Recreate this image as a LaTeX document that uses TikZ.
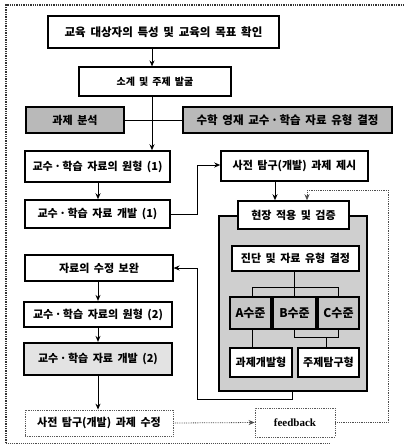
\documentclass[tikz,border=0pt]{standalone}
\usepackage{fontspec}
\newfontfamily\kr{Noto Sans CJK KR}[WordSpace=1.8]
\newfontfamily\fbfont{Liberation Serif}
\usetikzlibrary{arrows.meta}
\newcommand\mdot{\hspace{1.5pt}·\hspace{1.5pt}}
\tikzset{
  base/.style={draw, inner sep=0pt, font=\kr\bfseries\fontsize{11}{12}\selectfont, align=center},
  box/.style={base, fill=white, line width=1.1pt},
  medbox/.style={base, fill=white, line width=1.5pt},
  thickbox/.style={base, fill=white, line width=2.2pt},
  graybox/.style={base, fill=gray!55, line width=1.3pt},
  lvbox/.style={base, fill=gray!45, line width=1.3pt, font=\kr\bfseries\fontsize{12}{12}\selectfont},
  dotbox/.style={base, densely dotted, line width=0.8pt, draw=gray!70!black},
  arr/.style={line width=1pt, -{Stealth[length=6pt,width=5pt]}},
  ln/.style={line width=1pt},
  thin/.style={line width=0.8pt},
  dotarr/.style={densely dotted, line width=0.8pt, draw=gray!60!black, -{Stealth[length=6pt,width=5pt]}},
  dotln/.style={densely dotted, line width=0.8pt, draw=gray!60!black},
}
\begin{document}
\begin{tikzpicture}[x=1pt,y=-1pt]
\useasboundingbox (0,0) rectangle (404,447);
\fill[white] (0,0) rectangle (404,447);
% outer frame
\draw[line width=1.3pt, densely dotted, draw=black!80] (6,443) -- (6,5) -- (404,5);
\draw[line width=0.9pt, densely dotted, draw=black!70] (6,443) -- (330,443);
% gray region
\draw[fill=gray!38, line width=1.3pt] (219,216) rectangle (367,391);

\node[box, minimum width=231pt, minimum height=32pt, font=\kr\bfseries\fontsize{11.5}{12}\selectfont] (b1) at (163.5,32) {교육 대상자의 특성 및 교육의 목표 확인};
\node[box, minimum width=152pt, minimum height=29pt, font=\kr\bfseries\fontsize{10}{12}\selectfont] (b2) at (155,81.5) {소계 및 주제 발굴};
\node[graybox, minimum width=98pt, minimum height=26pt] (g1) at (75,120) {과제 분석};
\node[graybox, minimum width=209pt, minimum height=26pt, font=\kr\bfseries\fontsize{11.5}{12}\selectfont] (g2) at (287.5,120) {수학 영재 교수\mdot 학습 자료 유형 결정};
\node[medbox, minimum width=145pt, minimum height=31pt] (b3) at (97.5,166.5) {교수\mdot 학습 자료의 원형 (1)};
\node[medbox, minimum width=145pt, minimum height=28pt] (b4) at (97.5,214) {교수\mdot 학습 자료 개발 (1)};
\node[medbox, minimum width=147pt, minimum height=30pt] (b5) at (294.5,166) {사전 탐구(개발) 과제 제시};
\node[medbox, minimum width=111pt, minimum height=28pt] (b6) at (293.5,215) {현장 적용 및 검증};
\node[thickbox, minimum width=127pt, minimum height=25pt] (b7) at (295.5,258.5) {진단 및 자료 유형 결정};
\node[lvbox, minimum width=41pt, minimum height=32pt] (la) at (250.5,313) {A수준};
\node[lvbox, minimum width=43pt, minimum height=32pt] (lb) at (294.5,313) {B수준};
\node[lvbox, minimum width=41pt, minimum height=32pt] (lc) at (338.5,313) {C수준};
\node[medbox, minimum width=62pt, minimum height=29pt] (td) at (261,362.5) {과제개발형};
\node[medbox, minimum width=61pt, minimum height=29pt] (te) at (328.5,362.5) {주제탐구형};
\node[box, minimum width=148pt, minimum height=26pt] (b8) at (99,268) {자료의 수정 보완};
\node[thickbox, minimum width=148pt, minimum height=25pt] (b9) at (98,314.5) {교수\mdot 학습 자료의 원형 (2)};
\node[thickbox, fill=gray!22, minimum width=148pt, minimum height=32pt] (b10) at (98,359) {교수\mdot 학습 자료 개발 (2)};
\node[dotbox, minimum width=148pt, minimum height=26pt] (b11) at (99,423) {사전 탐구(개발) 과제 수정};
\node[dotbox, minimum width=80pt, minimum height=29pt, font=\fbfont\bfseries\fontsize{11}{12}\selectfont] (fb) at (295,422.5) {feedback};

\coordinate (r1) at (197,214);
\coordinate (r2) at (197,165);
\coordinate (f1) at (388,422.5);
\coordinate (f2) at (388,190);
\coordinate (f3) at (307,190);
\coordinate (h1) at (252,287);
\coordinate (h2) at (338,287);
\coordinate (j1) at (294,337);
\coordinate (j2) at (338,337);
\coordinate (j3) at (326,337);
\coordinate (gb) at (292,391);
\coordinate (k1) at (292,399);
\coordinate (k2) at (197,399);
\coordinate (k3) at (197,268);

% connectors
\draw[arr] (b1.south -| 152,0) -- (b2.north -| 152,0);
\draw[arr] (b2.south -| 152,0) -- (b3.north -| 152,0);
\draw[ln] (g1.east) -- (g2.west);
\draw[arr] (b3.south -| 98,0) -- (b4.north -| 98,0);
\draw[arr] (b4.east) -- (r1) -- (r2) -- (b5.west |- r2);
\draw[arr] (b5.south -| 275,0) -- (b6.north -| 275,0);
\draw[dotln] (fb.east) -- (f1) -- (f2) -- (f3);
\draw[dotarr] (f3) -- (b6.north -| f3);
\draw[thin] (b7.south -| 294.5,0) -- (lb.north);
\draw[thin] (la.north -| h1) -- (h1) -- (h2) -- (lc.north -| h2);
\draw[thin] (la.south -| h1) -- (td.north -| h1);
\draw[thin] (lb.south -| j1) -- (j1) -- (j2) -- (lc.south -| j2);
\draw[thin] (j3) -- (te.north -| j3);
\draw[arr] (gb) -- (k1) -- (k2) -- (k3) -- (b8.east);
\draw[arr] (b8.south -| 98,0) -- (b9.north -| 98,0);
\draw[arr] (b9.south -| 98,0) -- (b10.north -| 98,0);
\draw[arr] (b10.south -| 98,0) -- (b11.north -| 98,0);
\draw[dotarr] (b11.east) -- (fb.west);
\end{tikzpicture}
\end{document}
